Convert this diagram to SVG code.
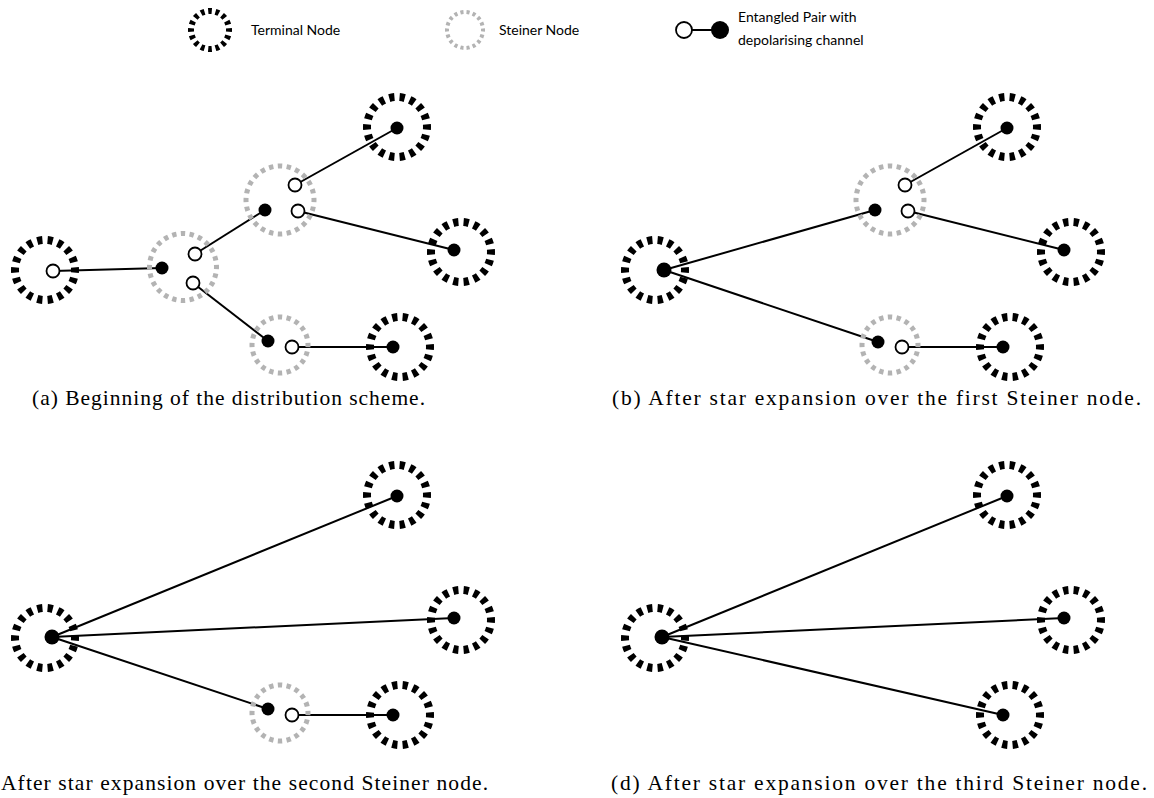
<svg xmlns="http://www.w3.org/2000/svg" width="1154" height="798" viewBox="0 0 1154 798">
  <style>
    .term { fill: none; stroke: #000; stroke-width: 8; stroke-dasharray: 0.5 0.5; stroke-dashoffset: 0.25; }
    .stei { fill: none; stroke: #b3b3b3; stroke-width: 5; stroke-dasharray: 0.5 0.5; stroke-dashoffset: 0.25; }
    .qb { fill: #000; }
    .qw { fill: #fff; stroke: #000; stroke-width: 1.8; }
    .link { stroke: #000; stroke-width: 2; fill: none; }
    .leg { font-family: Lato, "Liberation Sans", sans-serif; font-size: 14px; fill: #000; }
    .cap { font-family: "Liberation Serif", "DejaVu Serif", serif; font-size: 21.5px; fill: #000; }
  </style>

  <!-- legend -->
  <g id="legend">
    <circle class="term" cx="210" cy="30" r="19" pathLength="16" style="stroke-width:6"/>
    <text class="leg" x="251" y="35">Terminal Node</text>
    <circle class="stei" cx="465" cy="30" r="18" pathLength="18" style="stroke-width:4"/>
    <text class="leg" x="499" y="35">Steiner Node</text>
    <line class="link" x1="684" y1="30" x2="720" y2="30"/>
    <circle class="qw" cx="684" cy="30" r="8"/>
    <circle class="qb" cx="720" cy="30" r="9"/>
    <text class="leg" x="738" y="22">Entangled Pair with</text>
    <text class="leg" x="738" y="45">depolarising channel</text>
  </g>

  <!-- connectors -->
  <g id="connectors">
    <!-- (a) -->
    <line class="link" x1="53" y1="271" x2="162" y2="268"/>
    <line class="link" x1="195" y1="254" x2="265" y2="210"/>
    <line class="link" x1="193" y1="283" x2="268" y2="341"/>
    <line class="link" x1="295" y1="185" x2="397" y2="128"/>
    <line class="link" x1="298" y1="211" x2="454" y2="250"/>
    <line class="link" x1="292" y1="347" x2="393" y2="347"/>
    <!-- (b) -->
    <line class="link" x1="664" y1="270" x2="875" y2="210"/>
    <line class="link" x1="664" y1="270" x2="878" y2="342"/>
    <line class="link" x1="905" y1="185" x2="1007" y2="128"/>
    <line class="link" x1="908" y1="211" x2="1064" y2="250"/>
    <line class="link" x1="902" y1="347" x2="1003" y2="347"/>
    <!-- (c) -->
    <line class="link" x1="52" y1="637" x2="397" y2="496"/>
    <line class="link" x1="52" y1="637" x2="454" y2="618"/>
    <line class="link" x1="52" y1="637" x2="268" y2="709"/>
    <line class="link" x1="292" y1="715" x2="393" y2="715"/>
    <!-- (d) -->
    <line class="link" x1="662" y1="637" x2="1007" y2="496"/>
    <line class="link" x1="662" y1="637" x2="1064" y2="618"/>
    <line class="link" x1="662" y1="637" x2="1003" y2="715"/>
  </g>

  <!-- (a) beginning -->
  <g id="a-t1"><circle class="term" cx="45" cy="270" r="30" pathLength="18"/><circle class="qw" cx="53" cy="271" r="6.5"/></g>
  <g id="a-s1"><circle class="stei" cx="183" cy="267" r="33.5" pathLength="24"/><circle class="qb" cx="162" cy="268" r="6.5"/><circle class="qw" cx="195" cy="254" r="6.5"/><circle class="qw" cx="193" cy="283" r="6.5"/></g>
  <g id="a-s2"><circle class="stei" cx="280" cy="200" r="34" pathLength="24"/><circle class="qb" cx="265" cy="210" r="6.5"/><circle class="qw" cx="295" cy="185" r="6.5"/><circle class="qw" cx="298" cy="211" r="6.5"/></g>
  <g id="a-s3"><circle class="stei" cx="280" cy="345" r="28" pathLength="20"/><circle class="qb" cx="268" cy="341" r="6.5"/><circle class="qw" cx="292" cy="347" r="6.5"/></g>
  <g id="a-t2"><circle class="term" cx="397" cy="127" r="30" pathLength="18"/><circle class="qb" cx="397" cy="128" r="6.5"/></g>
  <g id="a-t3"><circle class="term" cx="461" cy="252" r="30" pathLength="18"/><circle class="qb" cx="454" cy="250" r="6.5"/></g>
  <g id="a-t4"><circle class="term" cx="400" cy="347" r="30" pathLength="18"/><circle class="qb" cx="393" cy="347" r="6.5"/></g>
  <text class="cap" x="32" y="405" textLength="393">(a) Beginning of the distribution scheme.</text>

  <!-- (b) first Steiner node expanded -->
  <g id="b-t1"><circle class="term" cx="655" cy="270" r="30" pathLength="18"/><circle class="qb" cx="664" cy="270" r="7.5"/></g>
  <g id="b-s2"><circle class="stei" cx="890" cy="200" r="34" pathLength="24"/><circle class="qb" cx="875" cy="210" r="6.5"/><circle class="qw" cx="905" cy="185" r="6.5"/><circle class="qw" cx="908" cy="211" r="6.5"/></g>
  <g id="b-s3"><circle class="stei" cx="890" cy="345" r="28" pathLength="20"/><circle class="qb" cx="878" cy="342" r="6.5"/><circle class="qw" cx="902" cy="347" r="6.5"/></g>
  <g id="b-t2"><circle class="term" cx="1007" cy="127" r="30" pathLength="18"/><circle class="qb" cx="1007" cy="128" r="6.5"/></g>
  <g id="b-t3"><circle class="term" cx="1071" cy="252" r="30" pathLength="18"/><circle class="qb" cx="1064" cy="250" r="6.5"/></g>
  <g id="b-t4"><circle class="term" cx="1010" cy="347" r="30" pathLength="18"/><circle class="qb" cx="1003" cy="347" r="6.5"/></g>
  <text class="cap" x="612" y="405" textLength="529">(b) After star expansion over the first Steiner node.</text>

  <!-- (c) second Steiner node expanded -->
  <g id="c-t1"><circle class="term" cx="45" cy="638" r="30" pathLength="18"/><circle class="qb" cx="52" cy="637" r="7.5"/></g>
  <g id="c-s3"><circle class="stei" cx="280" cy="713" r="28" pathLength="20"/><circle class="qb" cx="268" cy="709" r="6.5"/><circle class="qw" cx="292" cy="715" r="6.5"/></g>
  <g id="c-t2"><circle class="term" cx="397" cy="495" r="30" pathLength="18"/><circle class="qb" cx="397" cy="496" r="6.5"/></g>
  <g id="c-t3"><circle class="term" cx="461" cy="620" r="30" pathLength="18"/><circle class="qb" cx="454" cy="618" r="6.5"/></g>
  <g id="c-t4"><circle class="term" cx="400" cy="715" r="30" pathLength="18"/><circle class="qb" cx="393" cy="715" r="6.5"/></g>
  <text class="cap" x="1" y="790" textLength="487">After star expansion over the second Steiner node.</text>

  <!-- (d) third Steiner node expanded -->
  <g id="d-t1"><circle class="term" cx="655" cy="638" r="30" pathLength="18"/><circle class="qb" cx="662" cy="637" r="7.5"/></g>
  <g id="d-t2"><circle class="term" cx="1007" cy="495" r="30" pathLength="18"/><circle class="qb" cx="1007" cy="496" r="6.5"/></g>
  <g id="d-t3"><circle class="term" cx="1071" cy="620" r="30" pathLength="18"/><circle class="qb" cx="1064" cy="618" r="6.5"/></g>
  <g id="d-t4"><circle class="term" cx="1010" cy="715" r="30" pathLength="18"/><circle class="qb" cx="1003" cy="715" r="6.5"/></g>
  <text class="cap" x="611" y="790" textLength="536">(d) After star expansion over the third Steiner node.</text>
</svg>
